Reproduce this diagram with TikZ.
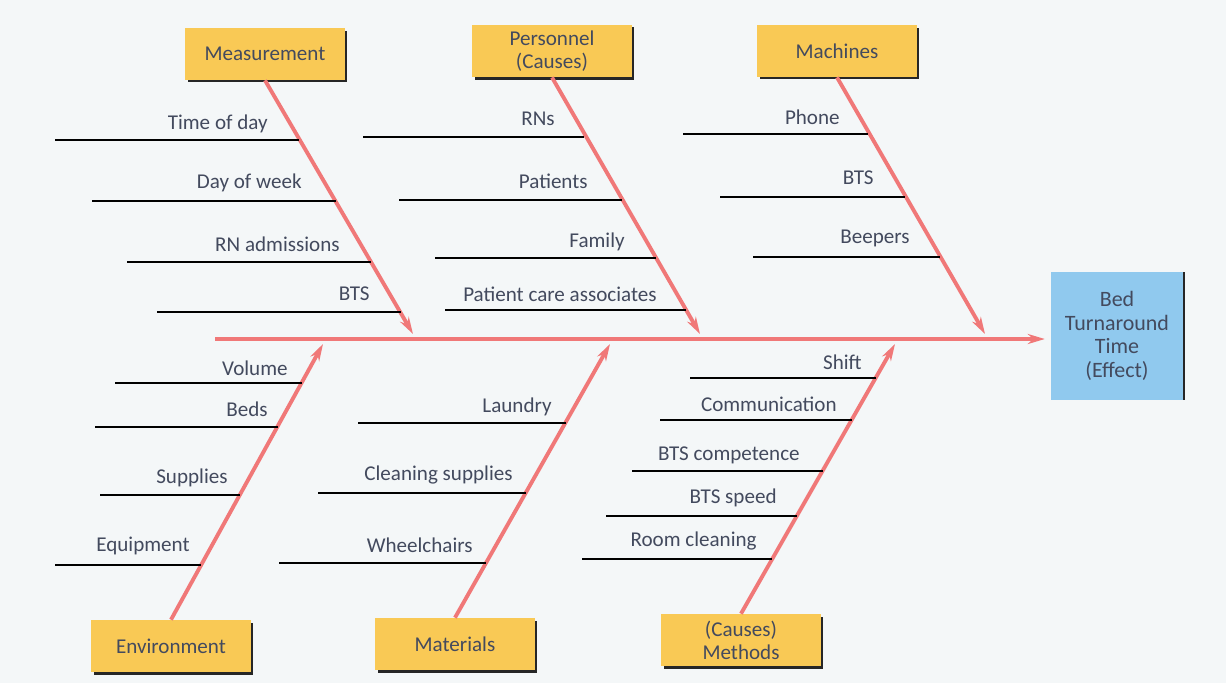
\documentclass[tikz,border=0pt]{standalone}
\usepackage{fontspec}
\setmainfont{Carlito}
\usetikzlibrary{arrows.meta, shadows}

\definecolor{bonered}{HTML}{F07878}
\definecolor{causefill}{HTML}{F9C955}
\definecolor{effectfill}{HTML}{90C9EE}
\definecolor{inkgray}{HTML}{434A5E}
\definecolor{paper}{HTML}{F4F7F8}

\begin{document}
\begin{tikzpicture}[x=0.02cm, y=-0.02cm,
    catbox/.style={rectangle, fill=causefill, minimum width=3.2cm, minimum height=1.04cm, align=center, text=inkgray, font=\fontsize{12}{13}\selectfont, drop shadow={shadow xshift=0.05cm, shadow yshift=-0.05cm, fill=black!85, opacity=1}},
    effectbox/.style={rectangle, fill=effectfill, minimum width=2.6cm, minimum height=2.56cm, text width=2.4cm, align=center, text=inkgray, font=\fontsize{12.5}{13.5}\selectfont, drop shadow={shadow xshift=0.05cm, shadow yshift=0cm, fill=black!85, opacity=1}},
    bone/.style={draw=bonered, line width=2.2pt, -{Stealth[length=0.34cm, width=0.2cm]}},
    causeline/.style={draw=black, line width=1pt},
    causetext/.style={anchor=east, inner sep=0pt, text=inkgray, font=\fontsize{12}{13}\selectfont}
  ]
  \fill[paper] (0,0) rectangle (1226,683);
  \useasboundingbox (0,0) rectangle (1226,683);

  % categories and effect
  \node[catbox] (meas) at (265,54) {Measurement};
  \node[catbox] (pers) at (552,51) {Personnel\\(Causes)};
  \node[catbox] (mach) at (837,51) {Machines};
  \node[catbox] (env) at (171,646) {Environment};
  \node[catbox] (mat) at (455,644) {Materials};
  \node[catbox] (meth) at (741,640) {(Causes)\\Methods};
  \node[effectbox] (effect) at (1117,336) {Bed\\Turnaround\\Time\\(Effect)};

  % spine and bones
  \coordinate (tail) at (215,339);
  \coordinate (meastip) at (413,334);
  \coordinate (perstip) at (700,334);
  \coordinate (machtip) at (985,334);
  \coordinate (envtip) at (323,344);
  \coordinate (mattip) at (610,344);
  \coordinate (methtip) at (895,344);
  \draw[bone, shorten >=0.12cm] (tail) -- (tail -| effect.west);
  \draw[bone] (meas.south) -- (meastip);
  \draw[bone] (pers.south) -- (perstip);
  \draw[bone] (mach.south) -- (machtip);
  \draw[bone] (env.north) -- (envtip);
  \draw[bone] (mat.north) -- (mattip);
  \draw[bone] (meth.north) -- (methtip);

  % causes: left end / right end / line y / text right / text y / text
  \foreach \xl/\xr/\y/\tx/\ty/\txt [count=\i] in {
      55/299/140/268/124/Time of day,
      92/336/201/302/183/Day of week,
      127/371/262/340/244/RN admissions,
      157/401/312/370/294/BTS,
      363/584/137/555/119/RNs,
      399/622/200/588/181/Patients,
      435/656/258/625/242/Family,
      445/686/310/657/294/Patient care associates,
      683/868/134/840/117/Phone,
      720/905/197/874/178/BTS,
      753/940/257/910/238/Beepers,
      115/302/383/288/368/Volume,
      95/278/427/268/409/Beds,
      100/240/495/228/478/Supplies,
      55/201/565/190/546/Equipment,
      358/566/423/552/407/Laundry,
      318/526/493/513/475/Cleaning supplies,
      279/486/563/473/545/Wheelchairs,
      690/876/378/862/362/Shift,
      660/852/420/837/404/Communication,
      632/823/471/800/455/BTS competence,
      606/797/516/777/498/BTS speed,
      582/772/559/757/541/Room cleaning} {
    \coordinate (cl\i) at (\xl,\y);
    \coordinate (cr\i) at (\xr,\y);
    \draw[causeline] (cl\i) -- (cr\i);
    \node[causetext] (ct\i) at (\tx,\ty) {\txt};
  }
\end{tikzpicture}
\end{document}
